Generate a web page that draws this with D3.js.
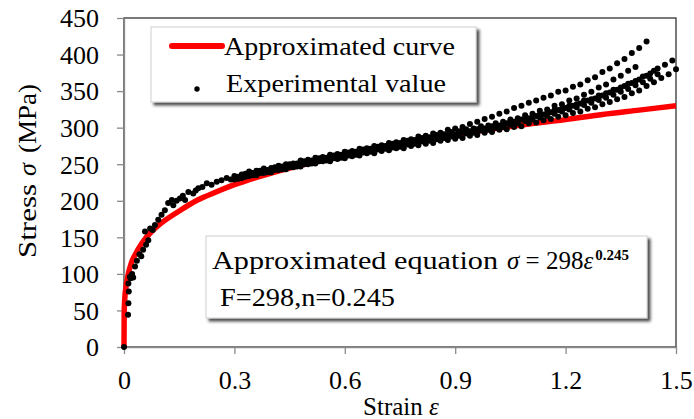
<!DOCTYPE html>
<html><head><meta charset="utf-8">
<script src="https://cdn.jsdelivr.net/npm/d3@7"></script>
<style>
body{margin:0;background:#fff}
svg{display:block}
text{font-family:"Liberation Serif","Times New Roman",serif;fill:#000}
</style>
</head><body>
<svg id="c" width="694" height="419"></svg>
<script>
// ---------- data ----------
const xTicks = [0, 0.3, 0.6, 0.9, 1.2, 1.5];
const yTicks = [0, 50, 100, 150, 200, 250, 300, 350, 400, 450];

// approximated curve
const curveStrain = [0, 0.0005, 0.002, 0.005, 0.01, 0.02, 0.03, 0.05, 0.075, 0.1, 0.15, 0.2, 0.25, 0.3, 0.4, 0.5, 0.6, 0.7, 0.8, 0.9, 1.0, 1.1, 1.2, 1.3, 1.4, 1.5];
const curveStress = [0, 46, 65, 81, 96, 115, 126, 143, 158, 169, 186, 201, 212, 222, 238, 251, 262, 272, 281, 290, 298, 305, 311, 318, 324, 330];

// experimental values, early part (sparse)
const earlyStrain = [0, 0.011, 0.012, 0.013, 0.012, 0.016, 0.018, 0.022, 0.025, 0.030, 0.035, 0.042, 0.047, 0.052, 0.057, 0.060, 0.066, 0.071, 0.078, 0.084, 0.093, 0.102, 0.111, 0.120, 0.130, 0.134, 0.143, 0.152, 0.160, 0.166, 0.175, 0.188, 0.195, 0.202, 0.213, 0.225, 0.238, 0.252, 0.265, 0.279, 0.290];
const earlyStress = [0, 44, 60, 76, 87, 96, 94, 100, 95, 110, 118, 127, 124, 133, 158, 140, 146, 162, 160, 167, 174, 181, 187, 197, 201, 194, 200, 203, 207, 201, 212, 210, 214, 217, 219, 224, 222, 226, 228, 231, 229];

// experimental values, specimens (strain grids)
const gridA = [0.30,0.32,0.34,0.36,0.38,0.40,0.42,0.44,0.46,0.48,0.50,0.52,0.54,0.56,0.58,0.60,0.62,0.64,0.66,0.68,0.70,0.72,0.74,0.76,0.78,0.80,0.82,0.84,0.86,0.88,0.90,0.92,0.94,0.96,0.98,1.00,1.02,1.04,1.06,1.08,1.10,1.12,1.14,1.16,1.18,1.20,1.22,1.24,1.26,1.28,1.30,1.32,1.34,1.36,1.38,1.40,1.42,1.44,1.46,1.48,1.50];
const gridB = [0.31,0.33,0.35,0.37,0.39,0.41,0.43,0.45,0.47,0.49,0.51,0.53,0.55,0.57,0.59,0.61,0.63,0.65,0.67,0.69,0.71,0.73,0.75,0.77,0.79,0.81,0.83,0.85,0.87,0.89,0.91,0.93,0.95,0.97,0.99,1.01,1.03,1.05,1.07,1.09,1.11,1.13,1.15,1.17,1.19,1.21,1.23,1.25,1.27,1.29,1.31,1.33,1.35,1.37,1.39,1.41,1.43,1.45,1.47,1.49];

const spec1Stress = [234,236,240,241,244,245,248,250,251,255, 256,259,260,263,264,267,268,271,272,275, 276,279,280,283,284,288,289,292,293,297, 299,301,305,308,312,315,319,322,327,330, 334,337,341,344,349,351,356,359,365,369, 376,381,388,394,402,409,418];
const spec2Stress = [231,235,237,240,241,244,245,248,249,252, 253,256,257,260,261,264,265,268,269,272, 273,275,276,279,280,283,284,287,288,291, 292,295,296,299,300,303,304,308,309,313, 314,318,320,324,326,330,332,337,339,344, 347,352,355,360,364,370,374,381,386,392];
const spec3Stress = [229,231,234,235,238,239,242,243,246,247, 250,251,254,254,257,258,261,262,265,265, 268,269,272,272,275,276,278,279,282,283, 285,286,289,290,293,294,297,298,301,302, 306,307,310,312,315,317,320,322,326,328, 332,335,339,342,347,351,357,362,368,373, 380];
const spec4Stress = [233,237,238,241,242,246,247,250,251,254, 255,258,259,262,263,266,267,270,271,274, 275,278,279,282,283,286,287,290,291,294, 295,298,299,302,303,306,308,311,313,317, 319,323,325,330,332,337,340,345,349,355, 359,366,371,378,383];
const spec5Stress = [231,234,236,239,240,243,244,247,248,251, 252,255,256,259,260,263,264,267,268,271, 272,274,276,278,280,282,284,286,287,290, 291,294,295,298,299,302,303,306,308,311, 313,316,318,321,324,327,330,333,337,340, 344,348,352,357,361,366,371,378];
const spec6Stress = [230,233,235,238,239,242,243,246,247,250, 251,254,255,258,259,262,263,266,267,270, 271,273,274,277,278,281,282,284,286,288, 289,292,293,296,297,300,301,304,306,309, 311,314,316,319,322,325,328,331,334,338, 341,345,349,353,358,362,367,373];

// ---------- layout ----------
const svg = d3.select("#c");
const x = d3.scaleLinear().domain([0, 1.5]).range([124, 676]);
const y = d3.scaleLinear().domain([0, 450]).range([347, 18]);

const defs = svg.append("defs");
const f = defs.append("filter").attr("id", "sh").attr("x", "-10%").attr("y", "-10%").attr("width", "130%").attr("height", "140%");
f.append("feDropShadow").attr("dx", 3).attr("dy", 3).attr("stdDeviation", 1.4).attr("flood-color", "#000").attr("flood-opacity", 0.7);

// plot frame
svg.append("rect").attr("x", x(0)).attr("y", y(450)).attr("width", x(1.5) - x(0)).attr("height", y(0) - y(450))
  .attr("fill", "#fff").attr("stroke", "#333").attr("stroke-width", 1.3);

// axes
const gx = svg.append("g").attr("transform", `translate(0,${y(0)})`)
  .call(d3.axisBottom(x).tickValues(xTicks).tickFormat(d => d === 0 ? "0" : d3.format(".1f")(d)).tickSize(7).tickSizeOuter(0).tickPadding(17));
const gy = svg.append("g").attr("transform", `translate(${x(0)},0)`)
  .call(d3.axisLeft(y).tickValues(yTicks).tickSize(7).tickSizeOuter(0).tickPadding(18));
[gx, gy].forEach(g => {
  g.select(".domain").attr("stroke", "#8a8a8a").attr("stroke-width", 1.3);
  g.selectAll(".tick line").attr("stroke", "#8a8a8a").attr("stroke-width", 1.3);
  g.selectAll(".tick text").attr("font-family", "Liberation Serif").attr("font-size", 26).attr("fill", "#000");
});
gy.selectAll(".tick text").attr("dy", "0.34em");

// approximated curve
const line = d3.line().x((d, i) => x(curveStrain[i])).y(d => y(d)).curve(d3.curveMonotoneX);
svg.append("path").datum(curveStress).attr("d", line)
  .attr("fill", "none").attr("stroke", "#ff0000").attr("stroke-width", 5.5).attr("stroke-linejoin", "round");

// experimental points
const pts = [];
earlyStrain.forEach((s, i) => pts.push([s, earlyStress[i]]));
[spec1Stress, spec3Stress, spec5Stress].forEach(arr => arr.forEach((v, i) => pts.push([gridA[i], v])));
[spec2Stress, spec4Stress, spec6Stress].forEach(arr => arr.forEach((v, i) => pts.push([gridB[i], v])));
svg.append("g").selectAll("circle").data(pts).join("circle")
  .attr("cx", d => x(d[0])).attr("cy", d => y(d[1])).attr("r", 3).attr("fill", "#000");

// legend
const lg = svg.append("g");
lg.append("rect").attr("x", 151).attr("y", 27).attr("width", 325).attr("height", 75)
  .attr("fill", "#fff").attr("stroke", "#d0d0d0").attr("stroke-width", 1).attr("filter", "url(#sh)");
lg.append("line").attr("x1", 172).attr("x2", 222).attr("y1", 46).attr("y2", 46)
  .attr("stroke", "#ff0000").attr("stroke-width", 6).attr("stroke-linecap", "round");
lg.append("text").attr("x", 224).attr("y", 55).attr("font-size", 26)
  .attr("textLength", 231).attr("lengthAdjust", "spacingAndGlyphs").text("Approximated curve");
lg.append("circle").attr("cx", 197).attr("cy", 89).attr("r", 2.7).attr("fill", "#000");
lg.append("text").attr("x", 226).attr("y", 92).attr("font-size", 26)
  .attr("textLength", 220).attr("lengthAdjust", "spacingAndGlyphs").text("Experimental value");

// equation box
const eq = svg.append("g");
eq.append("rect").attr("x", 206).attr("y", 236).attr("width", 441).attr("height", 82)
  .attr("fill", "#fff").attr("stroke", "#d0d0d0").attr("stroke-width", 1).attr("filter", "url(#sh)");
eq.append("text").attr("x", 212).attr("y", 269).attr("font-size", 25)
  .attr("textLength", 286).attr("lengthAdjust", "spacingAndGlyphs").text("Approximated equation");
const e2 = eq.append("text").attr("x", 507).attr("y", 269).attr("font-size", 25);
e2.append("tspan").attr("font-style", "italic").text("σ");
e2.append("tspan").text(" = 298");
e2.append("tspan").attr("font-style", "italic").text("ε");
e2.append("tspan").attr("dy", -9).attr("dx", 2).attr("font-size", 15).attr("font-weight", "bold").text("0.245");
eq.append("text").attr("x", 220).attr("y", 306).attr("font-size", 25)
  .attr("textLength", 175).attr("lengthAdjust", "spacingAndGlyphs").text("F=298,n=0.245");

// axis titles
const xt = svg.append("text").attr("x", 401).attr("y", 415).attr("font-size", 25).attr("text-anchor", "middle");
xt.append("tspan").text("Strain ");
xt.append("tspan").attr("font-style", "italic").text("ε");

const yt = svg.append("g").attr("transform", "translate(36,0) rotate(-90)");
yt.append("text").attr("x", -258).attr("y", 0).attr("font-size", 26)
  .attr("textLength", 74).attr("lengthAdjust", "spacingAndGlyphs").text("Stress");
yt.append("text").attr("x", -176).attr("y", 0).attr("font-size", 26).attr("font-style", "italic").text("σ");
yt.append("text").attr("x", -153).attr("y", 0).attr("font-size", 26)
  .attr("textLength", 69).attr("lengthAdjust", "spacingAndGlyphs").text("(MPa)");
</script>
</body></html>
